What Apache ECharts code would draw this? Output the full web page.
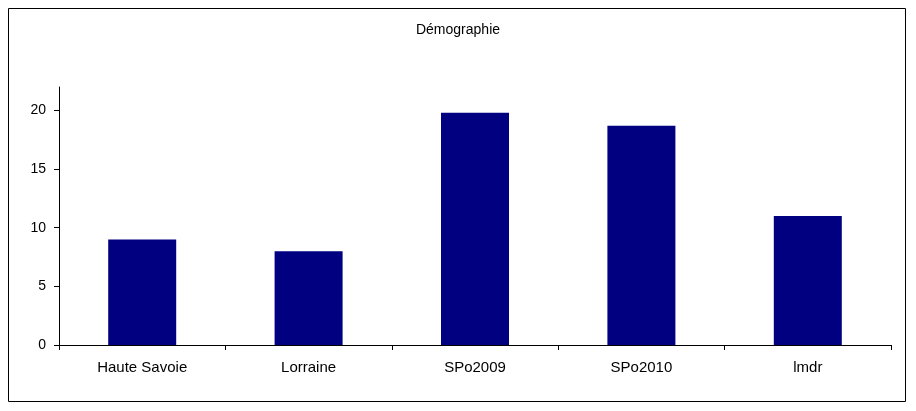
<!DOCTYPE html>
<html>
<head>
<meta charset="utf-8">
<script src="https://cdn.jsdelivr.net/npm/echarts@6/dist/echarts.min.js"></script>
<style>html,body{margin:0;padding:0;background:#fff}#c{width:916px;height:411px}</style>
</head>
<body>
<div id="c"></div>
<script>
var title = 'Démographie';
var categories = ['Haute Savoie', 'Lorraine', 'SPo2009', 'SPo2010', 'lmdr'];
var values = [9, 8, 19.8, 18.7, 11];
var yTicks = [0, 5, 10, 15, 20];
var yMax = 22;

var font = 'Liberation Sans, Arial, sans-serif';
var chart = echarts.init(document.getElementById('c'), null, {renderer: 'canvas'});
chart.setOption({
  animation: false,
  backgroundColor: '#ffffff',
  title: {
    text: title,
    left: 'center',
    top: 18,
    textStyle: {fontFamily: font, fontSize: 14, fontWeight: 'normal', color: '#000'}
  },
  graphic: [{
    type: 'rect',
    shape: {x: 8.5, y: 8.5, width: 897, height: 393},
    style: {fill: 'none', stroke: '#000', lineWidth: 1},
    silent: true
  }],
  grid: {left: 59, right: 25, top: 87, bottom: 66, containLabel: false},
  xAxis: {
    type: 'category',
    data: categories,
    axisLine: {lineStyle: {color: '#000', width: 1}},
    axisTick: {show: true, length: 5, alignWithLabel: false, lineStyle: {color: '#000'}},
    axisLabel: {color: '#000', fontFamily: font, fontSize: 15, margin: 15}
  },
  yAxis: {
    type: 'value',
    min: 0,
    max: yMax,
    axisLine: {show: true, lineStyle: {color: '#000', width: 1}},
    axisTick: {show: true, length: 5, customValues: yTicks, lineStyle: {color: '#000'}},
    axisLabel: {color: '#000', fontFamily: font, fontSize: 14, margin: 13, customValues: yTicks},
    splitLine: {show: false}
  },
  series: [{
    type: 'bar',
    data: values,
    barWidth: 68,
    itemStyle: {color: '#000080'}
  }]
});
</script>
</body>
</html>
